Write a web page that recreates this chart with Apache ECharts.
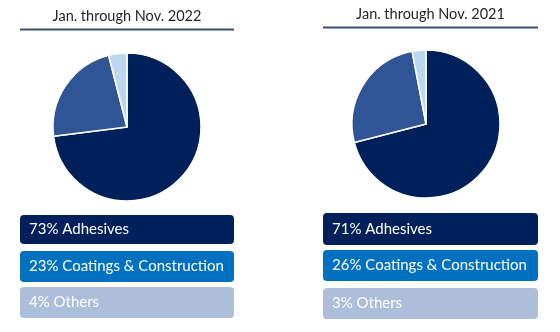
<!DOCTYPE html>
<html><head><meta charset="utf-8">
<script src="https://cdn.jsdelivr.net/npm/echarts@6/dist/echarts.min.js"></script>
<style>html,body{margin:0;padding:0;background:#fff}#c{width:560px;height:332px}</style>
</head><body><div id="c"></div>
<script>
var categories = ['Adhesives', 'Coatings & Construction', 'Others'];
var titles = ['Jan. through Nov. 2022', 'Jan. through Nov. 2021'];
var values2022 = [73, 23, 4];
var values2021 = [71, 26, 3];

var pieColors = ['#00205c', '#2f5597', '#bdd7ee'];
var boxColors = ['#00205c', '#0070c0', '#adbedb'];
var font = 'Lato, "Noto Sans", sans-serif';

var panels = [
  {values: values2022, title: titles[0], cx: 127, cy: 127, titleY: 16, lineY: 29.5, x0: 20, x1: 234, boxY: [215, 251, 287], boxH: [29, 31, 31]},
  {values: values2021, title: titles[1], cx: 426, cy: 124, titleY: 14, lineY: 27.5, x0: 323, x1: 538, boxY: [213, 250, 288], boxH: [32, 31, 31]}
];

var series = [], graphics = [];
panels.forEach(function (p) {
  series.push({
    type: 'pie', center: [p.cx, p.cy], radius: [0, 74], startAngle: 90, clockwise: true,
    label: {show: false}, labelLine: {show: false}, silent: true, animation: false,
    itemStyle: {borderColor: '#fff', borderWidth: 1.5},
    data: categories.map(function (c, i) { return {name: c, value: p.values[i], itemStyle: {color: pieColors[i]}}; })
  });
  graphics.push({type: 'text', x: (p.x0 + p.x1) / 2, y: p.titleY, style: {text: p.title, font: '14.5px ' + font, fill: '#262626', align: 'center', verticalAlign: 'middle'}});
  graphics.push({type: 'line', shape: {x1: p.x0, y1: p.lineY, x2: p.x1, y2: p.lineY}, style: {stroke: '#3d4f78', lineWidth: 2}});
  categories.forEach(function (c, i) {
    graphics.push({type: 'rect', shape: {x: p.x0, y: p.boxY[i], width: p.x1 - p.x0, height: p.boxH[i], r: 4}, style: {fill: boxColors[i]}});
    graphics.push({type: 'text', x: p.x0 + 9, y: p.boxY[i] + p.boxH[i] / 2, style: {text: p.values[i] + '% ' + c, font: '15px ' + font, fill: '#fff', align: 'left', verticalAlign: 'middle'}});
  });
});

var chart = echarts.init(document.getElementById('c'), null, {renderer: 'canvas'});
chart.setOption({animation: false, series: series, graphic: graphics});
</script></body></html>
